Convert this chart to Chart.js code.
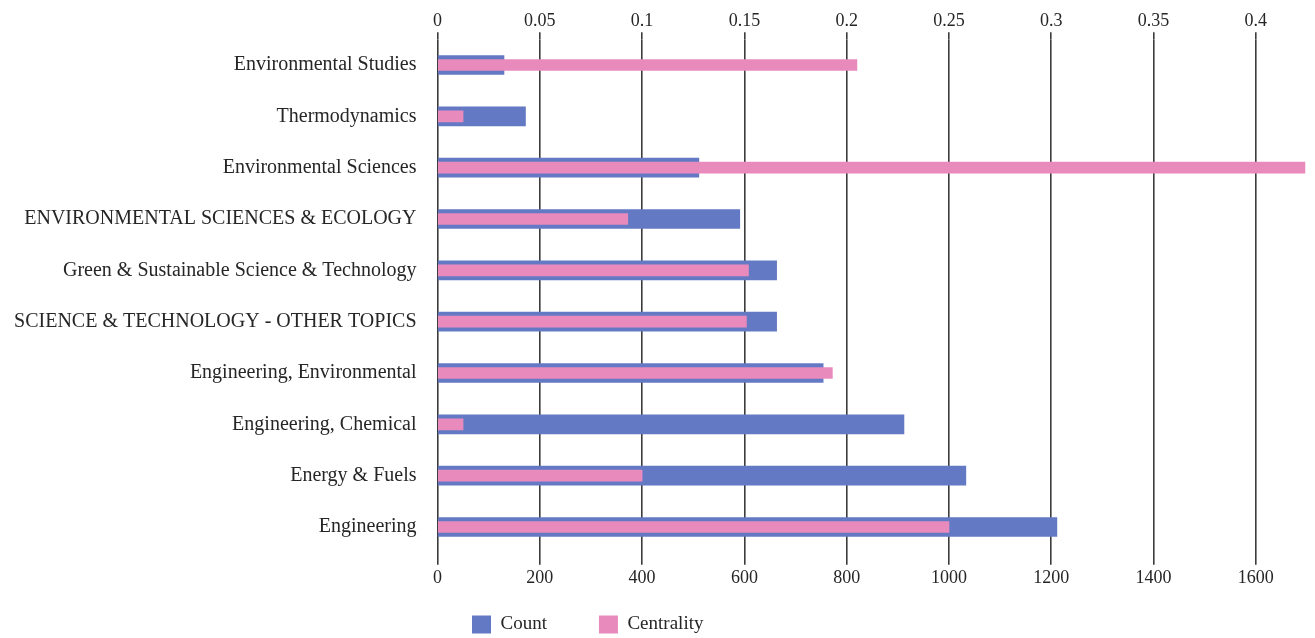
<!DOCTYPE html>
<html>
<head>
<meta charset="utf-8">
<script src="https://cdn.jsdelivr.net/npm/chart.js@4.4.1/dist/chart.umd.min.js"></script>
<style>
  html, body { margin: 0; padding: 0; background: #ffffff; }
  #wrap { width: 1315px; height: 638px; position: relative; }
</style>
</head>
<body>
<div id="wrap"><canvas id="c" width="1315" height="638"></canvas></div>
<script>
const categories = [
  'Environmental Studies',
  'Thermodynamics',
  'Environmental Sciences',
  'ENVIRONMENTAL SCIENCES & ECOLOGY',
  'Green & Sustainable Science & Technology',
  'SCIENCE & TECHNOLOGY - OTHER TOPICS',
  'Engineering, Environmental',
  'Engineering, Chemical',
  'Energy & Fuels',
  'Engineering'
];
const countValues = [130, 172, 511, 591, 663, 663, 754, 912, 1033, 1211];
const centralityValues = [0.205, 0.0125, 0.424, 0.093, 0.152, 0.151, 0.193, 0.0125, 0.1, 0.25];
const countTicksMax = 1600;
const centralityTicksMax = 0.4;

const SERIF = '"Liberation Serif", "Times New Roman", serif';
const TEXT = '#262626';
const GRID = '#3c3c3c';
const BLUE = '#6479c4';
const PINK = '#e98abd';

const legendShift = {
  id: 'legendShift',
  beforeDraw(chart) {
    const lg = chart.legend;
    if (!lg) return;
    const pad = lg.options.labels.padding;
    lg.left = 472 - pad;
    lg.right = 1315;
    lg.top = 615 - pad;
    lg.bottom = 638;
  }
};

new Chart(document.getElementById('c'), {
  type: 'bar',
  data: {
    labels: categories,
    datasets: [
      {
        label: 'Count',
        data: countValues,
        xAxisID: 'x',
        backgroundColor: BLUE,
        borderWidth: 0,
        barThickness: 19,
        grouped: false,
        order: 2
      },
      {
        label: 'Centrality',
        data: centralityValues,
        xAxisID: 'x2',
        backgroundColor: PINK,
        borderWidth: 0,
        barThickness: 11,
        grouped: false,
        order: 1
      }
    ]
  },
  options: {
    indexAxis: 'y',
    responsive: false,
    animation: false,
    layout: { padding: { left: 0, right: 8, top: 0, bottom: 0 } },
    scales: {
      y: {
        type: 'category',
        position: 'left',
        offset: true,
        grid: { display: false, drawTicks: false },
        border: { display: false },
        ticks: {
          color: TEXT,
          padding: 21,
          font: { family: SERIF, size: 20 }
        },
        afterFit(scale) { scale.width = 437.5; }
      },
      x: {
        type: 'linear',
        position: 'bottom',
        min: 0,
        max: 1700,
        grid: { color: GRID, lineWidth: 1.6, tickLength: 12, tickColor: GRID },
        border: { display: false },
        ticks: {
          stepSize: 200,
          includeBounds: false,
          color: TEXT,
          padding: 3,
          font: { family: SERIF, size: 18 },
          callback: (v) => String(v)
        },
        afterBuildTicks(scale) {
          scale.ticks = scale.ticks.filter(t => t.value <= countTicksMax + 1e-9);
        },
        afterFit(scale) { scale.height = 45.3; }
      },
      x2: {
        type: 'linear',
        position: 'top',
        min: 0,
        max: 0.425,
        grid: { drawOnChartArea: false, color: GRID, lineWidth: 1.6, tickLength: 7, tickColor: GRID },
        border: { display: false },
        ticks: {
          stepSize: 0.05,
          includeBounds: false,
          color: TEXT,
          padding: 0,
          font: { family: SERIF, size: 18 },
          callback: (v) => String(+Number(v).toFixed(2))
        },
        afterBuildTicks(scale) {
          scale.ticks = scale.ticks.filter(t => t.value <= centralityTicksMax + 1e-9);
        },
        afterFit(scale) { scale.height = 39.3; }
      }
    },
    plugins: {
      legend: {
        display: true,
        position: 'bottom',
        align: 'start',
        maxHeight: 40,
        labels: {
          boxWidth: 19,
          boxHeight: 18,
          padding: 52,
          color: TEXT,
          font: { family: SERIF, size: 19 },
          sort: (a, b) => a.datasetIndex - b.datasetIndex
        }
      },
      tooltip: { enabled: false },
      title: { display: false }
    }
  },
  plugins: [legendShift]
});
</script>
</body>
</html>
